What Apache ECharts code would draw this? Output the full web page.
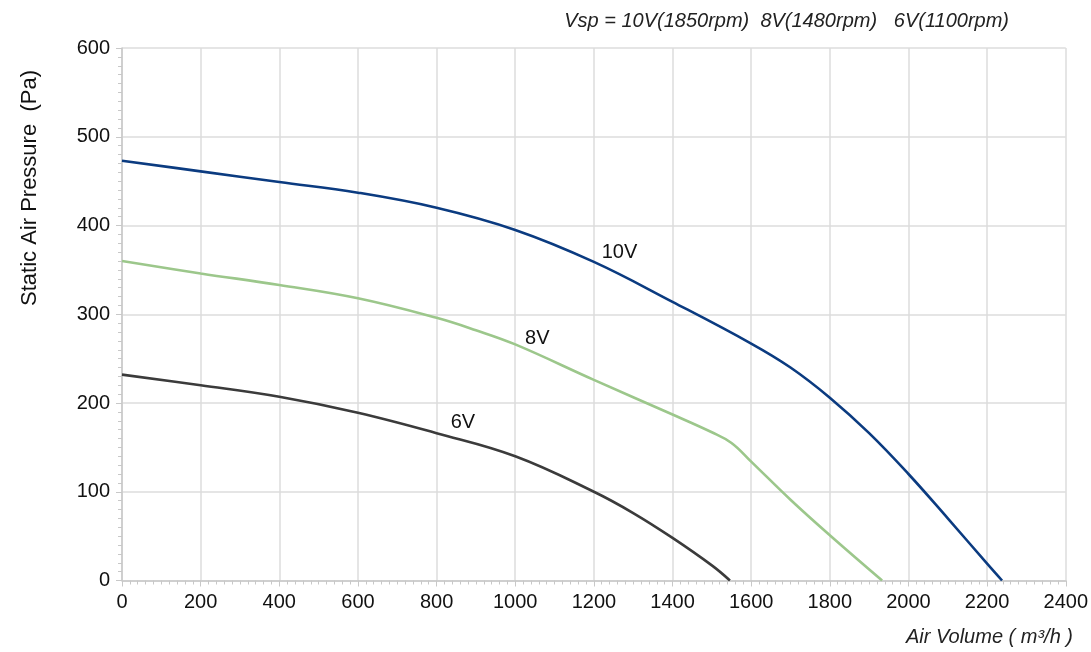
<!DOCTYPE html>
<html>
<head>
<meta charset="utf-8">
<title>Fan curve</title>
<script src="https://cdn.jsdelivr.net/npm/echarts@6/dist/echarts.min.js"></script>
<style>
  html, body { margin: 0; padding: 0; background: #fff; }
  #chart { width: 1091px; height: 652px; }
</style>
</head>
<body>
<div id="chart"></div>
<script>
// air volume (m3/h) and static pressure (Pa)
const volume10 = [0, 200, 400, 600, 800, 1000, 1200, 1400, 1600, 1700, 1800, 1900, 2000, 2100, 2200, 2238]
const pressure10 = [473, 461, 449, 437, 420, 395, 359, 314, 267, 240, 206, 166, 120, 70, 19, 0]

const volume8 = [0, 200, 400, 600, 800, 900, 1000, 1200, 1400, 1500, 1550, 1600, 1700, 1800, 1933]
const pressure8 = [360, 346, 333, 318, 296, 282, 266, 226, 187, 167, 155, 134, 91, 51, 0]

const volume6 = [0, 200, 400, 600, 800, 1000, 1200, 1300, 1400, 1500, 1546]
const pressure6 = [232, 220, 207, 189, 166, 140, 100, 76, 48, 17, 0]

const seriesNames = ['10V', '8V', '6V']
const seriesColors = ['#0b3b80', '#9cc78b', '#3b3b3b']

const pair = (xs, ys) => xs.map((x, i) => [x, ys[i]])

const chart = echarts.init(document.getElementById('chart'))

const fontFamily = '"Liberation Sans", Arial, sans-serif'

function curve (idx, xs, ys, labelCoord) {
  return {
    name: seriesNames[idx],
    type: 'line',
    data: pair(xs, ys),
    smooth: 0.4,
    showSymbol: false,
    lineStyle: { color: seriesColors[idx], width: 2.6 },
    itemStyle: { color: seriesColors[idx] },
    markPoint: {
      symbol: 'circle',
      symbolSize: 0,
      label: {
        show: true,
        formatter: seriesNames[idx],
        color: '#111',
        fontSize: 20,
        fontFamily: fontFamily
      },
      data: [{ coord: labelCoord }]
    }
  }
}

const axisCommon = {
  type: 'value',
  axisLine: { show: true, lineStyle: { color: '#c8c8c8', width: 1.5 } },
  axisTick: { show: true, length: 6, lineStyle: { color: '#c8c8c8' } },
  minorTick: { show: true, splitNumber: 10, length: 4, lineStyle: { color: '#c8c8c8' } },
  splitLine: { lineStyle: { color: '#dcdcdc', width: 1.5 } }
}

chart.setOption({
  animation: false,
  grid: { left: 122, right: 25, top: 48, bottom: 71.5 },
  xAxis: Object.assign({}, axisCommon, {
    min: 0,
    max: 2400,
    interval: 200,
    axisLabel: {
      color: '#111',
      fontSize: 20,
      fontFamily: fontFamily,
      margin: 12,
      formatter: v => String(v)
    }
  }),
  yAxis: Object.assign({}, axisCommon, {
    min: 0,
    max: 600,
    interval: 100,
    axisLabel: { color: '#111', fontSize: 20, fontFamily: fontFamily, margin: 12 }
  }),
  series: [
    curve(0, volume10, pressure10, [1265, 370]),
    curve(1, volume8, pressure8, [1056, 273]),
    curve(2, volume6, pressure6, [867, 178])
  ],
  graphic: [
    {
      type: 'text',
      right: 82,
      top: 11,
      style: {
        text: 'Vsp = 10V(1850rpm)  8V(1480rpm)   6V(1100rpm)',
        fontSize: 20,
        fontStyle: 'italic',
        fontFamily: fontFamily,
        fill: '#222'
      }
    },
    {
      type: 'text',
      right: 18,
      top: 627,
      style: {
        text: 'Air Volume ( m³/h )',
        fontSize: 20,
        fontStyle: 'italic',
        fontFamily: fontFamily,
        fill: '#222'
      }
    },
    {
      type: 'text',
      x: 19,
      y: 306,
      rotation: Math.PI / 2,
      style: {
        text: 'Static Air Pressure  (Pa)',
        fontSize: 22,
        fontFamily: fontFamily,
        fill: '#111'
      }
    }
  ]
})

window.addEventListener('resize', () => chart.resize())
</script>
</body>
</html>
